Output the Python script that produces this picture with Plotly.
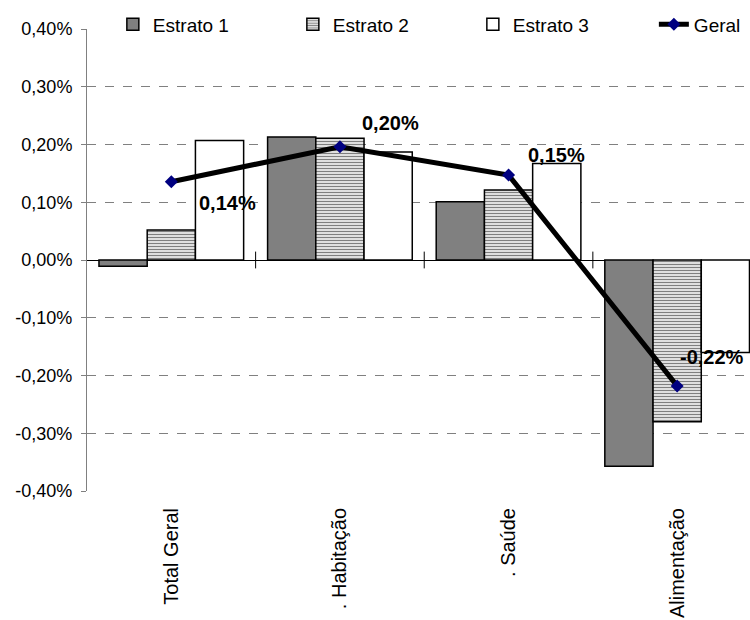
import plotly.graph_objects as go

categories = ["Total Geral", ". Habitação", ". Saúde", "Alimentação"]
series_names = ["Estrato 1", "Estrato 2", "Estrato 3"]
estrato1 = [-0.011, 0.213, 0.101, -0.357]
estrato2 = [0.052, 0.211, 0.121, -0.280]
estrato3 = [0.207, 0.187, 0.167, -0.160]
geral = [0.1356, 0.196, 0.147, -0.218]
geral_name = "Geral"
ytick_vals = [0.4, 0.3, 0.2, 0.1, 0.0, -0.1, -0.2, -0.3, -0.4]
ytick_text = ["0,40%", "0,30%", "0,20%", "0,10%", "0,00%", "-0,10%", "-0,20%", "-0,30%", "-0,40%"]

# label offsets (style)
label_shift = [(56, -21), (51, 24), (48, 20), (35, 29)]

FONT = "Liberation Sans, Arial, sans-serif"
xpos = list(range(len(categories)))

fig = go.Figure()
fig.add_trace(go.Bar(x=xpos, y=estrato1, name=series_names[0], legend="legend",
                     marker=dict(color="#808080", line=dict(color="black", width=1.5))))
fig.add_trace(go.Bar(x=xpos, y=estrato2, name=series_names[1], legend="legend",
                     marker=dict(color="white", line=dict(color="black", width=1.5),
                                 pattern=dict(shape="-", fgcolor="black", bgcolor="white",
                                              size=3, solidity=0.5))))
fig.add_trace(go.Bar(x=xpos, y=estrato3, name=series_names[2], legend="legend",
                     marker=dict(color="white", line=dict(color="black", width=1.5))))
fig.add_trace(go.Scatter(x=xpos, y=geral, name=geral_name, mode="lines+markers",
                         legend="legend2",
                         line=dict(color="black", width=5),
                         marker=dict(symbol="diamond", color="#000080", size=10,
                                     line=dict(width=0))))
# category boundary tick marks on the zero line
bounds = [i + 0.5 for i in range(len(categories) - 1)]
fig.add_trace(go.Scatter(x=bounds, y=[0] * len(bounds), mode="markers", showlegend=False,
                         hoverinfo="skip",
                         marker=dict(symbol="line-ns", size=12,
                                     line=dict(color="black", width=1))))

for i, v in enumerate(geral):
    txt = f"{v:.2f}".replace(".", ",") + "%"
    fig.add_annotation(x=xpos[i], y=v, text=f"<b>{txt}</b>", showarrow=False,
                       xshift=label_shift[i][0], yshift=label_shift[i][1],
                       font=dict(family=FONT, size=20, color="black"))

legend_common = dict(orientation="h", xanchor="left", yanchor="middle",
                     font=dict(family=FONT, size=19, color="black"),
                     bgcolor="rgba(0,0,0,0)", traceorder="normal", borderwidth=0)

fig.update_layout(
    width=750, height=620,
    margin=dict(l=87, r=0, t=29, b=129),
    paper_bgcolor="white", plot_bgcolor="white",
    barmode="group", bargap=0.142, bargroupgap=0,
    font=dict(family=FONT, size=18, color="black"),
    showlegend=True,
    legend=dict(x=0.039, y=1.0097, entrywidth=135, entrywidthmode="pixels", **legend_common),
    legend2=dict(x=0.855, y=1.0097, **legend_common),
    xaxis=dict(range=[-0.5, 3.432], tickvals=xpos, ticktext=categories,
               tickangle=-90, ticks="", showgrid=False, showline=False,
               zeroline=False, ticklabelstandoff=12, automargin=False,
               tickfont=dict(family=FONT, size=20, color="black")),
    yaxis=dict(range=[-0.4, 0.4], tickvals=ytick_vals, ticktext=ytick_text,
               showgrid=False, ticks="outside", ticklen=5, tickcolor="#808080",
               showline=True, linecolor="#808080", linewidth=1,
               zeroline=True, zerolinecolor="black", zerolinewidth=1,
               ticklabelstandoff=5, automargin=False,
               tickfont=dict(family=FONT, size=18, color="black"),
               minor=dict(tickvals=ytick_vals[1:], showgrid=True, gridcolor="#808080",
                          griddash="dash", gridwidth=1, ticks="")),
)

fig.write_html("out.html",
               config={"displayModeBar": False},
               post_script="document.body.style.margin='0px';"
                           "document.body.style.overflow='hidden';"
                           "document.documentElement.style.overflow='hidden';")
